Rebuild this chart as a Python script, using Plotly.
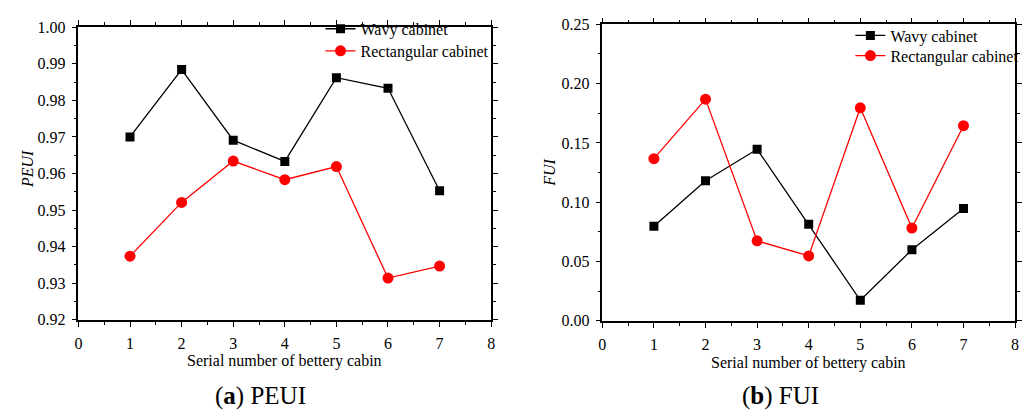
import plotly.graph_objects as go

cabins = [1, 2, 3, 4, 5, 6, 7]
peui_wavy = [0.9700, 0.9884, 0.9691, 0.9633, 0.9862, 0.9833, 0.9553]
peui_rect = [0.9374, 0.9521, 0.9634, 0.9583, 0.9619, 0.9314, 0.9347]
fui_wavy = [0.0798, 0.1181, 0.1446, 0.0814, 0.0173, 0.0599, 0.0947]
fui_rect = [0.1367, 0.1869, 0.0674, 0.0547, 0.1796, 0.0782, 0.1645]

W, H = 1032, 419
FONT = "Liberation Serif, Times New Roman, Times, serif"

fig = go.Figure()

def add_pair(wavy, rect, xa, ya, leg_w, leg_r):
    fig.add_trace(go.Scatter(x=cabins, y=wavy, mode="lines+markers", name="Wavy cabinet",
                             line=dict(color="black", width=1.3),
                             marker=dict(symbol="square", size=9, color="black"),
                             xaxis=xa, yaxis=ya, legend=leg_w))
    fig.add_trace(go.Scatter(x=cabins, y=rect, mode="lines+markers", name="Rectangular cabinet",
                             line=dict(color="red", width=1.3),
                             marker=dict(symbol="circle", size=11, color="red"),
                             xaxis=xa, yaxis=ya, legend=leg_r))

add_pair(peui_wavy, peui_rect, "x", "y", "legend", "legend2")
add_pair(fui_wavy, fui_rect, "x2", "y2", "legend3", "legend4")

def px_x(p):
    return p / W

def px_y(p):
    return 1 - p / H

axis_common = dict(showline=True, linecolor="black", linewidth=1.5, mirror="allticks",
                   ticks="outside", ticklen=5, tickwidth=1.2, tickcolor="black",
                   showgrid=False, zeroline=False, ticklabelstandoff=3,
                   tickfont=dict(family=FONT, size=16, color="black"))

def leg(xp, yp):
    return dict(x=px_x(xp), y=px_y(yp), xanchor="left", yanchor="top", bgcolor="rgba(0,0,0,0)",
                font=dict(family=FONT, size=16, color="black"), itemwidth=30)

fig.update_layout(
    width=W, height=H, margin=dict(l=0, r=0, t=0, b=0),
    paper_bgcolor="white", plot_bgcolor="white",
    xaxis=dict(domain=[px_x(75), px_x(491)], range=[0, 8], dtick=1, anchor="y",
               minor=dict(dtick=0.5, ticks="outside", ticklen=3, tickcolor="black"), **axis_common),
    yaxis=dict(domain=[px_y(325), px_y(20)], range=[0.92, 1.00], dtick=0.01, tickformat=".2f", anchor="x",
               minor=dict(dtick=0.005, ticks="outside", ticklen=3, tickcolor="black"), **axis_common),
    xaxis2=dict(domain=[px_x(603), px_x(1019)], range=[0, 8], dtick=1, anchor="y2",
                minor=dict(dtick=0.5, ticks="outside", ticklen=3, tickcolor="black"), **axis_common),
    yaxis2=dict(domain=[px_y(326), px_y(17)], range=[0, 0.25], dtick=0.05, tickformat=".2f", anchor="x2",
                minor=dict(dtick=0.025, ticks="outside", ticklen=3, tickcolor="black"), **axis_common),
    legend=leg(319, 4),
    legend2=leg(319, 27),
    legend3=leg(853, 11),
    legend4=leg(853, 32),
    showlegend=True,
)

annots = [
    dict(text="Serial number of bettery cabin", x=px_x(283), y=px_y(368), size=16, angle=0),
    dict(text="Serial number of bettery cabin", x=px_x(811), y=px_y(370), size=16, angle=0),
    dict(text="<i>PEUI</i>", x=px_x(23), y=px_y(168), size=16, angle=-90),
    dict(text="<i>FUI</i>", x=px_x(549), y=px_y(172), size=16, angle=-90),
    dict(text="(<b>a</b>) PEUI", x=px_x(258), y=px_y(404), size=25, angle=0),
    dict(text="(<b>b</b>) FUI", x=px_x(783), y=px_y(404), size=25, angle=0),
]
for a in annots:
    fig.add_annotation(text=a["text"], x=a["x"], y=a["y"], xref="paper", yref="paper",
                       xanchor="center", yanchor="middle", showarrow=False, textangle=a["angle"],
                       font=dict(family=FONT, size=a["size"], color="black"))

fig.write_html("out.html")
